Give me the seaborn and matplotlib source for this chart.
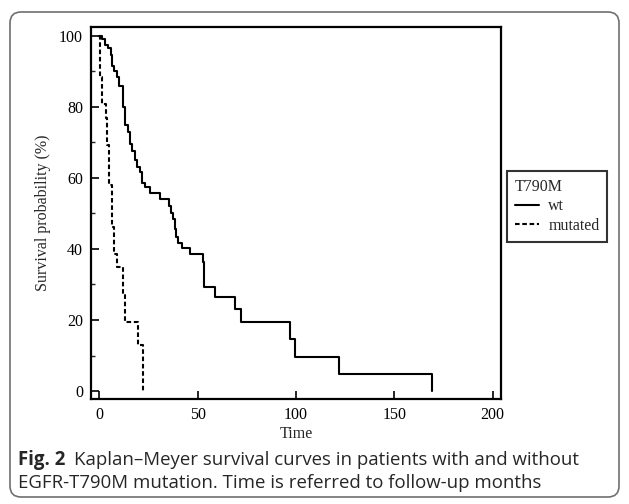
import numpy as np
import pandas as pd
import matplotlib
matplotlib.use("Agg")
import matplotlib.pyplot as plt
import seaborn as sns
from matplotlib.patches import FancyBboxPatch
from matplotlib.transforms import IdentityTransform
from matplotlib.ticker import MultipleLocator

# ---- data ----
wt_time = [1.5, 2.9, 4.6, 6.0, 6.6, 7.6, 8.8, 10.0, 11.9, 13.1, 14.4, 15.6, 16.8,
           18.1, 19.3, 20.5, 21.5, 23.0, 25.8, 30.9, 35.4, 36.5, 37.5, 38.3, 39.2,
           40.2, 41.9, 46.1, 52.5, 53.2, 58.8, 69.0, 72.0, 97.0, 99.5, 122.0, 169.0]
wt_surv = [99.0, 97.5, 96.5, 94.5, 91.5, 90.0, 88.5, 86.0, 80.0, 75.0, 73.0, 69.5, 67.5,
           65.0, 63.0, 61.6, 58.5, 57.5, 55.7, 54.2, 52.0, 50.0, 48.4, 45.6, 43.3,
           41.6, 40.3, 38.5, 36.2, 29.4, 26.5, 23.2, 19.4, 14.6, 9.7, 4.8, 0.0]
mut_time = [0.4, 1.2, 3.4, 4.1, 5.1, 6.3, 7.6, 9.2, 12.2, 13.0, 19.5, 22.0]
mut_surv = [88.5, 80.8, 77.0, 69.3, 58.0, 46.3, 38.7, 34.8, 27.0, 19.5, 13.0, 0.0]

groups = ["wt", "mutated"]
legend_title = "T790M"
x_ticks = [0, 50, 100, 150, 200]
y_ticks = [0, 20, 40, 60, 80, 100]
x_label = "Time"
y_label = "Survival probability (%)"
caption_bold = "Fig. 2"
caption_line1 = "Kaplan\u2013Meyer survival curves in patients with and without"
caption_line2 = "EGFR-T790M mutation. Time is referred to follow-up months"

# ---- figure ----
sns.set_theme(style="ticks")
plt.rcParams['font.family'] = ['Liberation Serif', 'DejaVu Serif']

W, H = 629, 504
fig = plt.figure(figsize=(W / 100, H / 100), dpi=100)
ax = fig.add_axes([90.7 / W, 1 - 399 / H, (501 - 90.7) / W, (399 - 26.7) / H])

frames = []
for g, t, s in [("wt", wt_time, wt_surv), ("mutated", mut_time, mut_surv)]:
    frames.append(pd.DataFrame({"time": [0.0] + t, "surv": [100.0] + s, "group": g}))
df = pd.concat(frames, ignore_index=True)

sns.lineplot(data=df, x="time", y="surv", style="group", style_order=groups,
             dashes={"wt": "", "mutated": (2.2, 1.3)}, color="black", linewidth=1.5,
             drawstyle="steps-post", estimator=None, sort=False, ax=ax)

ax.set_xlim(-4.4, 204.2)
ax.set_ylim(-2.25, 102.6)
ax.set_xticks(x_ticks)
ax.set_yticks(y_ticks)
ax.yaxis.set_minor_locator(MultipleLocator(10))
ax.tick_params(axis="both", which="major", direction="in", length=5.5, width=1.2,
               labelsize=11.5, colors="black", pad=5.5)
ax.tick_params(axis="y", which="minor", direction="in", length=3, width=1.0)
ax.tick_params(axis="x", which="minor", length=0)
for sp in ax.spines.values():
    sp.set_visible(True)
    sp.set_linewidth(1.6)
    sp.set_color("black")
ax.set_xlabel(x_label, fontsize=11.5, labelpad=2.5)
ax.set_ylabel(y_label, fontsize=11.5, labelpad=6)

handles, labels = ax.get_legend_handles_labels()
pairs = [(h, l) for h, l in zip(handles, labels) if l in groups]
if ax.legend_ is not None:
    ax.legend_.remove()
leg = ax.legend([p[0] for p in pairs], [p[1] for p in pairs], title=legend_title,
                loc="upper left", bbox_to_anchor=(506.7 / W, 1 - 170.7 / H),
                bbox_transform=fig.transFigure, frameon=True, fancybox=False,
                edgecolor="black", fontsize=11.5, title_fontsize=11.5, alignment="left",
                borderaxespad=0, handlelength=1.5, handletextpad=0.6,
                labelspacing=0.22, borderpad=0.5)
leg.get_frame().set_linewidth(1.5)
for line in leg.get_lines():
    line.set_linewidth(1.5)

# rounded outer border
border = FancyBboxPatch((10, 7), 609, 485, boxstyle="round,pad=0,rounding_size=11",
                        transform=IdentityTransform(), fill=False,
                        edgecolor="#707070", linewidth=1.2)
fig.add_artist(border)

# caption
cap_font = ["Open Sans", "DejaVu Sans"]
cap_size = 13.4
y1 = 1 - 465 / H
y2 = 1 - 488 / H
tb = fig.text(18 / W, y1, caption_bold, fontsize=cap_size, fontweight="bold",
              family=cap_font, va="baseline", ha="left")
fig.canvas.draw()
r = fig.canvas.get_renderer()
bb = tb.get_window_extent(renderer=r)
fig.text((bb.x1 + 9) / W, y1, caption_line1, fontsize=cap_size, family=cap_font,
         va="baseline", ha="left")
fig.text(18 / W, y2, caption_line2, fontsize=cap_size, family=cap_font,
         va="baseline", ha="left")

fig.savefig("out.png", dpi=100)
